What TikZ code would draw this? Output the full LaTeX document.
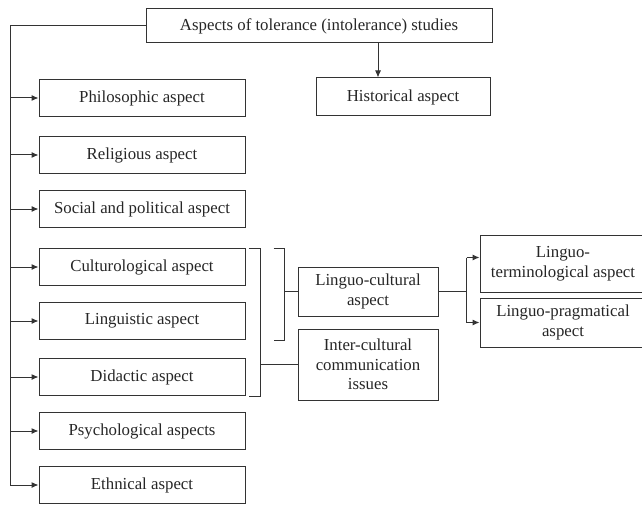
\documentclass[tikz,border=0pt]{standalone}
\usepackage{fontspec}
\setmainfont{Liberation Serif}
\usepackage{tikz}
\usetikzlibrary{shapes,arrows,arrows.meta,positioning}

\begin{document}
\begin{tikzpicture}[x=1pt, y=-1pt, line width=1pt, draw=black!80,
    aspbox/.style={draw=black!80, rectangle, minimum width=206pt, minimum height=37pt, align=center, inner sep=2pt, font=\fontsize{16.8}{19.5}\selectfont, text=black!85},
    arr/.style={-{Latex[length=7pt,width=6pt]}, draw=black!80}]
    \useasboundingbox (0,0) rectangle (642,505);

    \node[aspbox, minimum width=346pt, minimum height=34pt] (topbox) at (319,26) {Aspects of tolerance (intolerance) studies};
    \node[aspbox, minimum width=174pt, minimum height=38pt] (hist) at (403,97) {Historical aspect};

    \node[aspbox] (philo) at (142,98) {Philosophic aspect};
    \node[aspbox] (relig) at (142,155) {Religious aspect};
    \node[aspbox] (social) at (142,209) {Social and political aspect};
    \node[aspbox] (cult) at (142,267) {Culturological aspect};
    \node[aspbox] (ling) at (142,321) {Linguistic aspect};
    \node[aspbox] (did) at (142,377) {Didactic aspect};
    \node[aspbox] (psych) at (142,431) {Psychological aspects};
    \node[aspbox] (ethn) at (142,485) {Ethnical aspect};

    \node[aspbox, minimum width=140pt, minimum height=49pt] (lingcult) at (368,291.5) {Linguo-cultural\\aspect};
    \node[aspbox, minimum width=140pt, minimum height=71pt] (intercult) at (368,364.5) {Inter-cultural\\communication\\issues};

    \node[aspbox, minimum width=166pt, minimum height=57pt] (term) at (563,263.5) {Linguo-\\terminological aspect};
    \node[aspbox, minimum width=166pt, minimum height=49pt] (prag) at (563,322.5) {Linguo-pragmatical\\aspect};

    % main trunk on the left
    \coordinate (trunk) at (10,0);
    \draw (topbox.west) -- (trunk |- topbox.west) -- (trunk |- ethn.west);
    \foreach \b in {philo,relig,social,cult,ling,did,psych,ethn}
        \draw[arr] (trunk |- \b.west) -- (\b.west);

    \coordinate (histin) at (378,0);
    \draw[arr] (topbox.south -| histin) -- (hist.north -| histin);

    % brackets
    \draw ([xshift=3pt]cult.north east) -- ++(12,0) |- ([xshift=3pt]did.south east);
    \draw ([xshift=28pt]cult.north east) -- ++(11,0) |- ([xshift=28pt]ling.south east);
    \draw (lingcult.west) -- ++(-14,0);
    \draw (intercult.west) -- ++(-38,0);

    % fork to the right
    \draw (lingcult.east) -- ++(28,0) coordinate (fork);
    \path (fork |- term.west) ++(0,-6) coordinate (forktop);
    \draw (forktop) -- (fork |- prag.west);
    \draw[arr] (forktop) -- ([yshift=6pt]term.west);
    \draw[arr] (fork |- prag.west) -- (prag.west);
\end{tikzpicture}
\end{document}
